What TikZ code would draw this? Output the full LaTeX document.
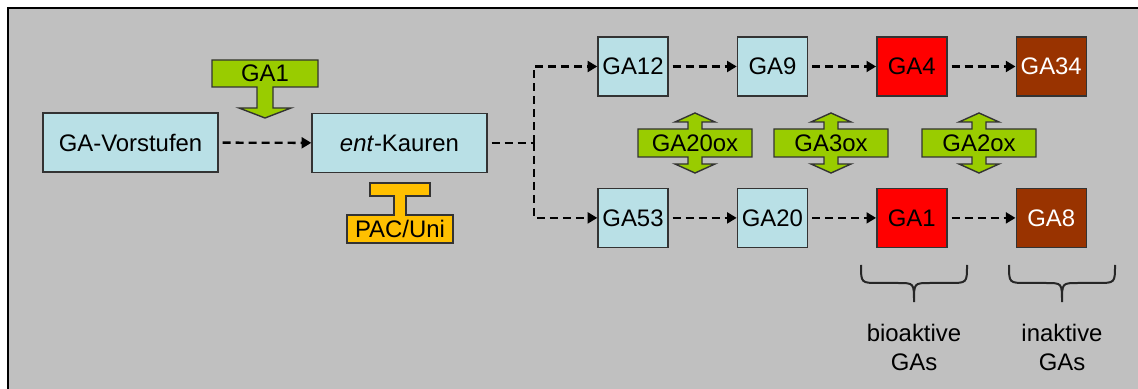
\documentclass[tikz,border=0pt]{standalone}
\usepackage{fontspec}
\setmainfont{Liberation Sans}
\usetikzlibrary{positioning,arrows.meta}
\definecolor{bggray}{HTML}{C0C0C0}
\definecolor{gabox}{HTML}{B9E0E6}
\definecolor{gagreen}{HTML}{99CC00}
\definecolor{gaorange}{HTML}{FFC000}
\definecolor{gared}{HTML}{FF0000}
\definecolor{gabrown}{HTML}{993300}

\begin{document}
\begin{tikzpicture}[x=0.25mm,y=-0.25mm,
    every node/.style={font=\fontsize{17}{20.6}\selectfont},
    box/.style={draw=black!80,line width=0.35mm,fill=gabox,minimum height=14.75mm,inner sep=0},
    small/.style={box,minimum width=17.5mm},
    flow/.style={line width=0.6mm,dash pattern=on 2mm off 1.25mm,shorten <=1mm,
      -{Triangle[length=2.4mm,width=2.7mm]}},
    enzyme/.style={draw=black!80,line width=0.35mm,fill=gagreen}]
  \useasboundingbox (0,0) rectangle (1138,389);
  \fill[white] (0,0) rectangle (1138,389);
  \fill[bggray] (8,8) rectangle (1138,389);
  \draw[line width=0.7mm] (8,389) -- (8,8) -- (1138,8);
  % pathway boxes
  \node[box,minimum width=43.75mm] (vor) at (130.5,142.5) {GA-Vorstufen};
  \node[box,minimum width=43.75mm] (kau) at (399.5,143) {\textit{ent}-Kauren};
  \node[small] (ga12) at (633,66.5) {GA12};
  \node[small,right=17mm of ga12] (ga9) {GA9};
  \node[small,right=17mm of ga9,fill=gared] (ga4) {GA4};
  \node[small,right=17mm of ga4,fill=gabrown,text=white] (ga34) {GA34};
  \node[small,below=22.75mm of ga12] (ga53) {GA53};
  \node[small,right=17mm of ga53] (ga20) {GA20};
  \node[small,right=17mm of ga20,fill=gared] (ga1) {GA1};
  \node[small,right=17mm of ga1,fill=gabrown,text=white] (ga8) {GA8};
  \coordinate[right=11.5mm of kau.east] (split);
  % dashed arrows
  \draw[flow] (vor) -- (kau);
  \draw[flow,-] (kau) -- (split);
  \draw[flow,shorten <=0mm] (split) |- (ga12);
  \draw[flow,shorten <=0mm] (split) |- (ga53);
  \foreach \a/\b in {ga12/ga9,ga9/ga4,ga4/ga34,ga53/ga20,ga20/ga1,ga1/ga8}
    \draw[flow] (\a) -- (\b);
  % GA1 feedback and inhibitor
  \filldraw[enzyme] (212,60) -- (318,60) -- (318,87) -- (273,87) -- (273,108) -- (291,108)
    -- (265,118) -- (239,108) -- (257,108) -- (257,87) -- (212,87) -- cycle;
  \node (gaone) at (265,73.5) {GA1};
  \filldraw[enzyme,fill=gaorange] (370,183) -- (430,183) -- (430,196) -- (406,196) -- (406,215)
    -- (453,215) -- (453,243) -- (347,243) -- (347,215) -- (394,215) -- (394,196) -- (370,196) -- cycle;
  \node (pac) at (400,229) {PAC/Uni};
  % oxidases
  \foreach \name/\cx/\txt in {ox20/695/GA20ox,ox3/831/GA3ox,ox2/979/GA2ox}{
    \filldraw[enzyme] (\cx-57,129) -- (\cx-7,129) -- (\cx-7,122) -- (\cx-20,122) -- (\cx,113)
      -- (\cx+20,122) -- (\cx+7,122) -- (\cx+7,129) -- (\cx+57,129) -- (\cx+57,157)
      -- (\cx+7,157) -- (\cx+7,164) -- (\cx+20,164) -- (\cx,173) -- (\cx-20,164)
      -- (\cx-7,164) -- (\cx-7,157) -- (\cx-57,157) -- cycle;
    \node (\name) at (\cx,143) {\txt};
  }
  % braces
  \foreach \bx in {914,1062}
    \draw[line width=0.5mm,black!85] (\bx-53,265) .. controls (\bx-53,283) .. (\bx-35,283)
      -- (\bx-16,283) .. controls (\bx,283) .. (\bx,302) .. controls (\bx,283) .. (\bx+16,283)
      -- (\bx+35,283) .. controls (\bx+53,283) .. (\bx+53,265);
  \node[align=center] (bio) at (914,347) {bioaktive\\GAs};
  \node[align=center] (inak) at (1062,347) {inaktive\\GAs};
\end{tikzpicture}
\end{document}
